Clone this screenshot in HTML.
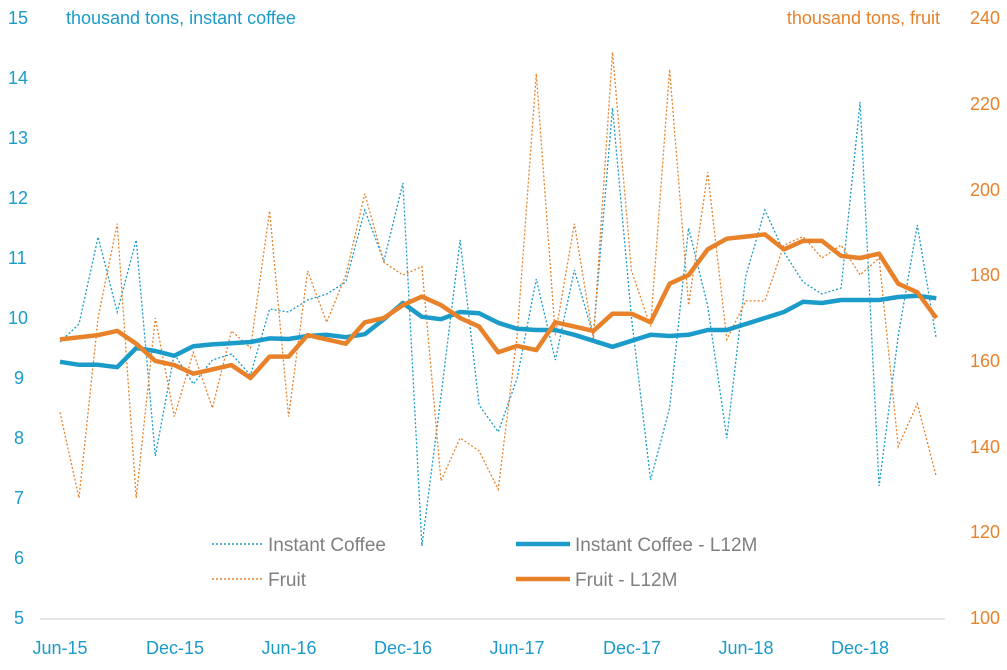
<!DOCTYPE html>
<html><head><meta charset="utf-8"><style>
body{margin:0;background:#fff;width:1007px;height:665px;overflow:hidden}
svg{font-family:"Liberation Sans",sans-serif}
</style></head><body>
<svg id="c" width="1007" height="665" xmlns="http://www.w3.org/2000/svg">
<g font-size="18" fill="#1a9bc9" text-anchor="start">
<text x="8" y="24">15</text><text x="8" y="84">14</text><text x="8" y="144">13</text><text x="8" y="204">12</text><text x="8" y="264">11</text><text x="8" y="324">10</text><text x="14" y="384">9</text><text x="14" y="444">8</text><text x="14" y="504">7</text><text x="14" y="564">6</text><text x="14" y="624">5</text>
<text x="66" y="24">thousand tons, instant coffee</text>
</g>
<g font-size="18" fill="#e8822a" text-anchor="end">
<text x="1000" y="24">240</text><text x="1000" y="110">220</text><text x="1000" y="196">200</text><text x="1000" y="281">180</text><text x="1000" y="367">160</text><text x="1000" y="453">140</text><text x="1000" y="538">120</text><text x="1000" y="624">100</text>
<text x="940" y="24">thousand tons, fruit</text>
</g>
<g font-size="18" fill="#1a9bc9" text-anchor="middle">
<text x="60" y="654">Jun-15</text><text x="175" y="654">Dec-15</text><text x="289" y="654">Jun-16</text><text x="403" y="654">Dec-16</text><text x="517" y="654">Jun-17</text><text x="632" y="654">Dec-17</text><text x="746" y="654">Jun-18</text><text x="860" y="654">Dec-18</text>
</g>
<line x1="40" y1="619" x2="945" y2="619" stroke="#ccc" stroke-width="1"/>
<g font-size="19" fill="#7f7f7f">
<line x1="212" y1="544" x2="262" y2="544" stroke="#1a9bc9" stroke-width="1.5" stroke-dasharray="2,2"/>
<text x="268" y="551">Instant Coffee</text>
<line x1="516" y1="544" x2="570" y2="544" stroke="#1a9bc9" stroke-width="4.5"/>
<text x="575" y="551">Instant Coffee - L12M</text>
<line x1="212" y1="579" x2="262" y2="579" stroke="#e8822a" stroke-width="1.5" stroke-dasharray="2,2"/>
<text x="268" y="586">Fruit</text>
<line x1="516" y1="579" x2="570" y2="579" stroke="#e8822a" stroke-width="4.5"/>
<text x="575" y="586">Fruit - L12M</text>
</g>
<g id="s"></g>
</svg>
<script>
var ic=[9.6,9.9,11.35,10.1,11.3,7.7,9.4,8.9,9.3,9.4,9.05,10.15,10.1,10.3,10.4,10.6,11.8,10.95,12.25,6.2,8.7,11.3,8.55,8.1,9.0,10.65,9.3,10.8,9.7,13.5,10.0,7.3,8.5,11.5,10.2,8.0,10.7,11.8,11.1,10.6,10.4,10.5,13.6,7.2,9.7,11.55,9.65];
var icl=[9.27,9.22,9.22,9.18,9.5,9.45,9.37,9.53,9.56,9.58,9.6,9.66,9.65,9.7,9.72,9.68,9.73,9.98,10.25,10.02,9.98,10.1,10.08,9.92,9.82,9.8,9.8,9.72,9.62,9.52,9.62,9.72,9.7,9.72,9.8,9.8,9.9,10.0,10.1,10.27,10.25,10.3,10.3,10.3,10.35,10.37,10.33];
var fr=[148,128,170,192,128,170,147,162,149,167,163,195,147,181,169,180,199,183,180,182,132,142,139,130,166,227,166,192,165,232,181,168,228,173,204,165,174,174,187,189,184,187,180,184,140,150,133];
var frl=[165,165.5,166,167,164,160,159,157,158,159,156,161,161,166,165,164,169,170,173,175,173,170,168,162,163.5,162.5,169,168,167,171,171,169,178,180,186,188.5,189,189.5,186,188,188,184.5,184,185,178,176,170];
function X(i){return 60+i*19.05}
function L(v){return 18+(15-v)*60}
function R(v){return 18+(240-v)*600/140}
function p(a,f){return a.map(function(v,i){return (i?'L':'M')+X(i).toFixed(1)+','+f(v).toFixed(1)}).join('')}
var g=document.getElementById('s');
g.innerHTML='<path d="'+p(ic,L)+'" fill="none" stroke="#1a9bc9" stroke-width="1.3" stroke-dasharray="2,2"/>'+
'<path d="'+p(fr,R)+'" fill="none" stroke="#e8822a" stroke-width="1.3" stroke-dasharray="2,2"/>'+
'<path d="'+p(icl,L)+'" fill="none" stroke="#1a9bc9" stroke-width="4.5" stroke-linejoin="round"/>'+
'<path d="'+p(frl,R)+'" fill="none" stroke="#e8822a" stroke-width="4.5" stroke-linejoin="round"/>';
</script>
</body></html>
